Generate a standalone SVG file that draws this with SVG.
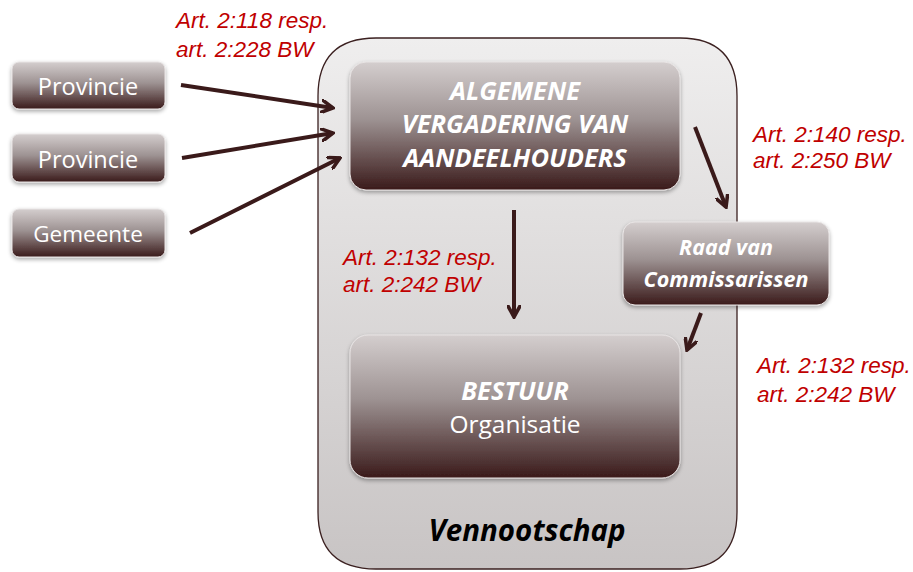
<svg xmlns="http://www.w3.org/2000/svg" width="913" height="572" viewBox="0 0 913 572">
  <defs>
    <linearGradient id="boxFill" x1="0" y1="0" x2="0" y2="1">
      <stop offset="0" stop-color="#d4cece"/>
      <stop offset="0.45" stop-color="#9d9292"/>
      <stop offset="1" stop-color="#3a1a1a"/>
    </linearGradient>
    <linearGradient id="containerFill" x1="0" y1="0" x2="0" y2="1">
      <stop offset="0" stop-color="#efeeee"/>
      <stop offset="1" stop-color="#c8c4c4"/>
    </linearGradient>
    <filter id="shadow" x="-10%" y="-10%" width="120%" height="130%">
      <feGaussianBlur in="SourceAlpha" stdDeviation="2"/>
      <feOffset dy="2" result="b"/>
      <feComponentTransfer><feFuncA type="linear" slope="0.35"/></feComponentTransfer>
      <feMerge><feMergeNode/><feMergeNode in="SourceGraphic"/></feMerge>
    </filter>
    <marker id="head" viewBox="0 0 14 14" refX="12" refY="7" markerWidth="14" markerHeight="14" markerUnits="userSpaceOnUse" orient="auto">
      <path d="M1,1 L12,7 L1,13" fill="none" stroke="#3a1a1a" stroke-width="3.6" stroke-linecap="round" stroke-linejoin="miter"/>
    </marker>
  </defs>
  <style>
    .box { fill: url(#boxFill); stroke: #e8e4e4; stroke-width: 1; filter: url(#shadow); }
    .lbl { font-family: "Open Sans", "Noto Sans", sans-serif; fill: #ffffff; text-anchor: middle; }
    .hd { font-weight: bold; font-style: italic; }
    .law { font-family: "Liberation Sans", Arial, sans-serif; font-style: italic; fill: #c00000; font-size: 22.5px; }
    .arr { stroke: #3a1a1a; stroke-width: 4; fill: none; marker-end: url(#head); }
  </style>

  <rect width="913" height="572" fill="#ffffff"/>

  <!-- company container -->
  <g id="vennootschap">
    <path d="M318,96 Q318,38 376,38 L680,38 Q737,38 737,96 L737,512 Q737,569 680,569 L376,569 Q318,569 318,512 Z" fill="url(#containerFill)" stroke="#3b2020" stroke-width="1.3"/>
    <text x="527" y="541" font-family="'Open Sans', 'Noto Sans', sans-serif" font-size="29.5" font-weight="bold" font-style="italic" fill="#000000" text-anchor="middle">Vennootschap</text>
  </g>

  <!-- shareholders -->
  <g id="provincie1">
    <rect class="box" x="12" y="62" width="153" height="47" rx="7"/>
    <text class="lbl" x="88" y="95" font-size="23.5">Provincie</text>
  </g>
  <g id="provincie2">
    <rect class="box" x="12" y="134" width="153" height="48" rx="7"/>
    <text class="lbl" x="88" y="168" font-size="23.5">Provincie</text>
  </g>
  <g id="gemeente">
    <rect class="box" x="12" y="209" width="153" height="48" rx="7"/>
    <text class="lbl" x="88" y="242" font-size="22.5">Gemeente</text>
  </g>

  <!-- bodies of the company -->
  <g id="ava">
    <rect class="box" x="350" y="62" width="330" height="128" rx="16"/>
    <text class="lbl hd" x="515" y="100" font-size="25.5">ALGEMENE</text>
    <text class="lbl hd" x="515" y="133" font-size="25.5">VERGADERING VAN</text>
    <text class="lbl hd" x="515" y="167" font-size="25.5">AANDEELHOUDERS</text>
  </g>
  <g id="rvc">
    <rect class="box" x="623" y="222" width="206" height="83" rx="12"/>
    <text class="lbl hd" x="726" y="255" font-size="21.5">Raad van</text>
    <text class="lbl hd" x="726" y="287" font-size="21.5">Commissarissen</text>
  </g>
  <g id="bestuur">
    <rect class="box" x="350" y="335" width="330" height="143" rx="18"/>
    <text class="lbl hd" x="515" y="400" font-size="25.5">BESTUUR</text>
    <text class="lbl" x="515" y="433" font-size="24.5">Organisatie</text>
  </g>

  <!-- connectors -->
  <g id="connectors">
    <line class="arr" x1="181" y1="85" x2="333" y2="108"/>
    <line class="arr" x1="182" y1="158" x2="333" y2="133"/>
    <line class="arr" x1="190" y1="233" x2="340" y2="158"/>
    <line class="arr" x1="514" y1="210" x2="514" y2="317"/>
    <line class="arr" x1="695" y1="127" x2="726" y2="207"/>
    <line class="arr" x1="701" y1="313" x2="687" y2="350"/>
  </g>

  <!-- legal references -->
  <g id="labels">
    <text class="law" x="176" y="28">Art. 2:118 resp.</text>
    <text class="law" x="176" y="57">art. 2:228 BW</text>
    <text class="law" x="753" y="142">Art. 2:140 resp.</text>
    <text class="law" x="753" y="168">art. 2:250 BW</text>
    <text class="law" x="343" y="265">Art. 2:132 resp.</text>
    <text class="law" x="343" y="292">art. 2:242 BW</text>
    <text class="law" x="757" y="373">Art. 2:132 resp.</text>
    <text class="law" x="757" y="402">art. 2:242 BW</text>
  </g>
</svg>
